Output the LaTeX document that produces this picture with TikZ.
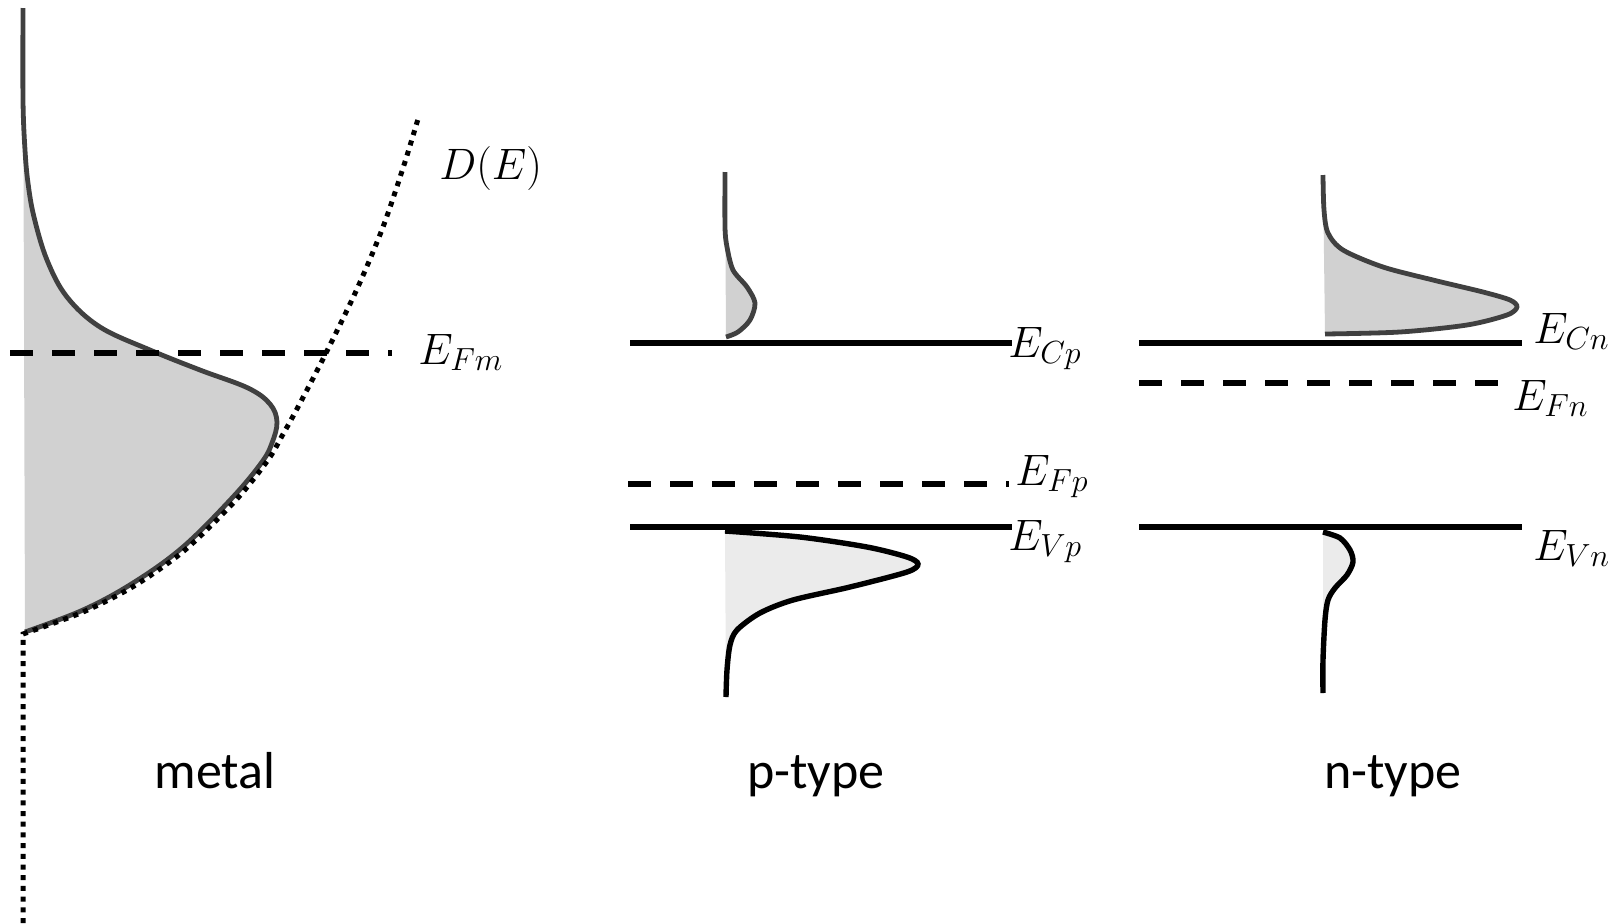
\RequirePackage{fix-cm}
\documentclass[tikz,border=0pt]{standalone}
\usepackage{fontspec}
\setmainfont{Carlito}
\DeclareMathSizes{22}{22}{16}{12}
\usetikzlibrary{positioning,calc}

\tikzset{
  bandline/.style={line width=2.7pt},
  fermiline/.style={line width=2.7pt, dash pattern=on 11.5pt off 9.5pt},
  dosline/.style={line width=2.5pt, dash pattern=on 2.5pt off 2.85pt},
  occ/.style={line width=2.4pt, draw=black!75, fill=black!18},
  occv/.style={line width=2.7pt, draw=black, fill=black!8},
  elabel/.style={anchor=base west, inner sep=0pt, font=\fontsize{22}{26}\selectfont},
  sidelabel/.style={anchor=base, inner sep=0pt, font=\fontsize{26}{31}\selectfont}
}

\begin{document}
\begin{tikzpicture}[x=0.5pt, y=-0.5pt]
  \useasboundingbox (0,0) rectangle (1619,923);

  % metal
  \draw[occ] plot[smooth, tension=0.6] coordinates {(23,8) (23,100) (25,150) (28,183) (34,217) (47,260) (67,297) (100,327) (150,350) (200,370) (248,388) (270,404) (277,422) (272,443) (262,462) (233,497) (183,547) (133,583) (83,610) (25,632)};
  \draw[dosline] (23,923) -- plot[smooth] coordinates {(23,634) (83,612) (134,586) (185,550) (236,500) (268,460) (282,436) (298,407) (326,353) (357,289) (383,227) (404,165) (418,119)};
  \coordinate (fm1) at (10,353);
  \coordinate (fm2) at (392,353);
  \draw[fermiline] (fm1) -- (fm2);
  \node[elabel] (dE) at (439,179) {$D(E)$};
  \node[elabel] (efm) at (418,364) {$E_{Fm}$};
  \node[sidelabel] (metal) at (215,788) {metal};

  % p-type
  \coordinate (cp1) at (630,343);
  \coordinate (cp2) at (1012,343);
  \coordinate (fp1) at (628,484);
  \coordinate (fp2) at (1009,484);
  \coordinate (vp1) at (630,527);
  \coordinate (vp2) at (1012,527);
  \draw[occ] plot[smooth] coordinates {(725,172) (725,227) (727,247) (733,270) (747,287) (755,303) (750,320) (738,332) (726,337)};
  \draw[occv] plot[smooth] coordinates {(725,531) (800,537) (867,547) (907,557) (918,564) (907,572) (850,587) (793,600) (760,613) (737,630) (730,645) (727,670) (726,697)};
  \draw[bandline] (cp1) -- (cp2);
  \draw[fermiline] (fp1) -- (fp2);
  \draw[bandline] (vp1) -- (vp2);
  \node[elabel] (ecp) at (1008,357) {$E_{Cp}$};
  \node[elabel] (efp) at (1015,485) {$E_{Fp}$};
  \node[elabel] (evp) at (1008,550) {$E_{Vp}$};
  \node[sidelabel] (ptype) at (816,788) {p-type};

  % n-type
  \coordinate (cn1) at (1139,343);
  \coordinate (cn2) at (1522,343);
  \coordinate (fn1) at (1139,383);
  \coordinate (fn2) at (1498,383);
  \coordinate (vn1) at (1139,527);
  \coordinate (vn2) at (1522,527);
  \draw[occ] plot[smooth] coordinates {(1323,175) (1324,210) (1328,233) (1343,250) (1383,267) (1433,280) (1483,292) (1510,300) (1517,307) (1507,315) (1467,325) (1400,332) (1325,334)};
  \draw[occv] plot[smooth] coordinates {(1323,532) (1340,538) (1350,550) (1353,562) (1347,575) (1335,588) (1328,600) (1325,620) (1323,660) (1323,693)};
  \draw[bandline] (cn1) -- (cn2);
  \draw[fermiline] (fn1) -- (fn2);
  \draw[bandline] (vn1) -- (vn2);
  \node[elabel] (ecn) at (1533,343) {$E_{Cn}$};
  \node[elabel] (efn) at (1512,410) {$E_{Fn}$};
  \node[elabel] (evn) at (1533,560) {$E_{Vn}$};
  \node[sidelabel] (ntype) at (1393,788) {n-type};
\end{tikzpicture}
\end{document}
